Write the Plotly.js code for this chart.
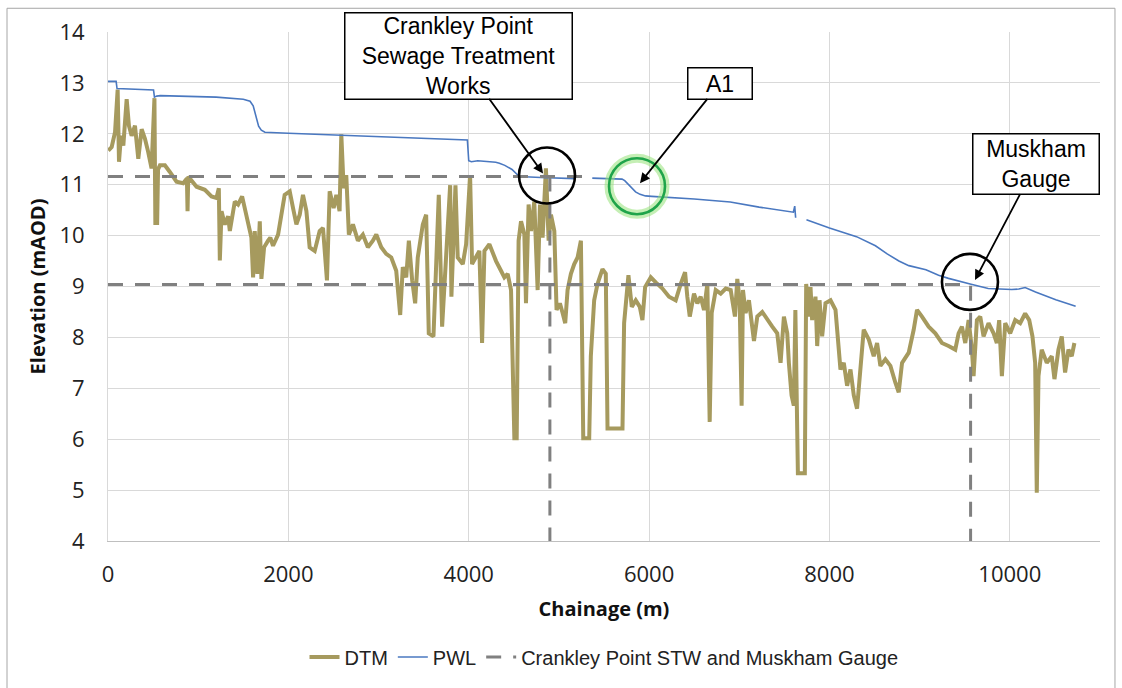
<!DOCTYPE html>
<html>
<head>
<meta charset="utf-8">
<script src="https://cdn.plot.ly/plotly-3.0.1.min.js"></script>
<style>html,body{margin:0;padding:0;background:#fff;}#chart{width:1122px;height:688px;}</style>
</head>
<body>
<div id="chart"></div>
<script>
// ---- Data ----
const dtmX = [3,41,78,107,122,144,170,207,232,262,299,336,373,410,446,483,515,525,545,555,576,631,686,760,834,875,882,890,982,1074,1148,1203,1229,1240,1259,1295,1332,1351,1406,1443,1487,1517,1553,1590,1609,1627,1657,1683,1701,1731,1775,1800,
1830,1886,1959,2015,2052,2089,2126,2162,2200,2236,2292,2347,2384,2428,2458,2502,2532,2568,2587,2613,2642,2671,2716,2771,2826,2882,2937,2975,3030,3085,3141,3196,3240,3269,3307,3336,3373,3406,3435,3491,3528,3557,3609,3639,3668,
3705,3750,3794,3808,3853,3878,3934,3971,4015,4037,4082,4118,4148,4174,4229,4266,4303,4358,4395,4432,4469,4506,4532,4553,4580,4617,4635,4664,4691,4727,4764,4790,4819,4856,4886,4912,4949,4974,5011,5041,5070,5096,5133,5170,5207,5244,5270,5336,5354,5391,5428,5483,5520,5539,5705,
5723,5742,5771,5808,5852,5897,5926,5956,6019,6074,6148,6221,6295,6351,6399,6424,6451,6498,6535,6572,6609,6646,6672,6694,6739,6794,6850,6905,6952,6978,7004,7026,7041,7070,7107,7163,7200,7255,7310,7366,7421,7458,7495,7532,7550,7580,7605,7622,7650,7727,7742,7772,7790,7808,7845,7864,7890,7919,7956,8012,8067,8096,8122,8159,8196,8233,8270,8306,8344,8380,8436,8491,8528,8565,8620,8676,8731,8768,8805,8879,8934,8971,
9026,9100,9174,9247,9321,9395,9432,9469,9506,9543,9580,9598,9635,9672,9709,9764,9820,9856,9882,9912,9949,10004,10060,10115,10170,10215,10251,10281,10299,10318,10354,10410,10465,10495,10539,10576,10613,10650,10687,10716];
const dtmY = [11.67,11.74,12.03,12.87,11.45,11.96,11.77,12.68,12.16,11.96,12.16,11.51,12.09,11.9,11.64,11.32,12.7,10.25,10.25,11.3,11.38,11.38,11.25,11.06,11.03,11.12,10.48,11.16,10.96,10.9,10.77,10.74,10.93,9.51,10.48,10.22,10.38,10.09,10.67,10.61,10.77,10.54,10.22,9.96,9.18,10.09,9.25,10.28,9.15,9.77,9.9,9.96,
9.8,10.02,10.8,10.87,10.54,10.22,10.41,10.8,10.48,9.77,9.7,10.09,10.15,9.12,10.87,10.54,10.8,10.48,11.99,10.93,11.19,10.02,10.22,9.9,10.02,9.77,9.9,10.02,9.77,9.64,9.57,9.31,8.44,9.38,9.18,9.9,9.12,8.67,9.57,10.22,10.41,8.08,8.02,9.64,10.8,
8.21,9.57,10.99,8.8,10.99,9.57,9.44,9.83,11.19,9.44,9.57,9.7,7.89,9.7,9.83,9.64,9.5,9.31,9.18,9.25,8.93,6.02,6.02,9.9,10.28,10.02,8.67,10.61,10.09,10.67,8.93,10.61,9.96,11.32,9.9,10.41,10.09,8.54,8.67,8.48,8.28,8.93,9.25,9.44,9.57,9.9,6.02,6.02,7.63,8.73,9.05,9.34,9.25,6.21,6.21,
8.28,8.6,9.22,8.6,8.73,8.6,8.34,8.99,9.18,9.08,8.96,8.8,8.73,9.05,9.28,8.8,8.41,8.86,8.67,8.8,8.54,9.05,6.34,8.48,8.93,8.86,8.96,8.93,8.41,9.15,8.73,6.66,8.93,8.48,8.73,7.93,8.41,8.5,8.34,8.21,8.08,7.5,8.41,8.08,7.5,6.86,6.66,8.54,5.33,5.33,9.05,8.41,8.99,8.34,8.8,7.83,8.73,8.02,8.67,8.73,8.54,8.02,7.37,7.5,7.05,7.37,6.86,6.6,7.5,8.15,7.96,7.63,7.89,7.44,7.57,7.44,7.11,6.92,7.5,7.7,8.15,8.54,
8.41,8.21,8.08,7.89,7.83,7.76,8.08,8.21,7.89,8.34,7.76,7.24,8.34,8.41,8.02,8.28,8.08,7.89,8.34,7.24,8.28,8.08,8.34,8.28,8.47,8.34,8.02,7.5,4.95,7.24,7.76,7.5,7.63,7.18,7.76,8.02,7.31,7.76,7.63,7.89];

const pwlX = [0,90,100,300,505,515,540,580,800,1200,1500,1575,1610,1640,1670,1700,1740,2000,2500,3000,3500,3985,4000,4030,4100,4200,4300,4340,4400,4480,4530,4560,4800,5000,5170,5180,5370,5600,5700,5730,5770,5810,5850,5900,5960,6030,6500,6900,7220,7600,7615,7625,7640,7745,8000,8300,8510,8640,8770,8880,9070,9210,9320,9560,9760,10020,10100,10170,10285,10510,10730];
const pwlY = [13.03,13.03,12.89,12.88,12.86,12.72,12.74,12.75,12.74,12.72,12.68,12.64,12.55,12.35,12.15,12.07,12.03,12.01,11.98,11.95,11.92,11.88,11.47,11.45,11.47,11.46,11.44,11.42,11.38,11.3,11.22,11.16,11.14,11.13,11.12,null,11.13,11.12,11.11,11.08,11.0,10.92,10.86,10.81,10.78,10.77,10.72,10.66,10.56,10.46,10.58,10.35,null,10.31,10.15,9.98,9.8,9.64,9.5,9.41,9.33,9.22,9.16,9.05,8.96,8.94,8.95,8.98,8.89,8.74,8.61];

const refX = [0,5260,null,4900,4900,null,0,9565,9565];
const refY = [11.16,11.16,null,11.16,4,null,9.04,9.04,4];

const seriesNames = ["DTM","PWL","Crankley Point STW and Muskham Gauge"];
const xTickVals = [0,2000,4000,6000,8000,10000];
const yTickVals = [4,5,6,7,8,9,10,11,12,13,14];

// Callouts: [text, tip x, tip y, text offset x(px), offset y(px), box w, box h]
const callouts = [
  ["Crankley Point<br>Sewage Treatment<br>Works", 4824, 11.22, -85, -118, 226, 85],
  ["A1", 5899, 11.03, 80, -100, 63, 30],
  ["Muskham<br>Gauge", 9614, 9.13, 61, -116, 125, 59]
];
// Circles: [centre x, centre y, radius px, colour]
const circles = [
  [4868, 11.18, 28, "#000000"],
  [5866, 10.97, 28, "#1fa44a"],
  [9558, 9.09, 28, "#000000"]
];

const traces = [
  {x: dtmX, y: dtmY, name: seriesNames[0], mode: "lines",
   line: {color: "#a69a5e", width: 4}},
  {x: pwlX, y: pwlY, name: seriesNames[1], mode: "lines",
   line: {color: "#4a78c0", width: 1.6}},
  {x: refX, y: refY, name: seriesNames[2], mode: "lines",
   line: {color: "#808080", width: 3, dash: "15px,12px"}}
];

const shapes = [
  {type: "rect", xref: "paper", yref: "paper", x0: -0.1018, x1: 1.0151, y0: -0.30, y1: 1.0466,
   line: {color: "#a6a6a6", width: 1}, layer: "below"}
];
circles.forEach(c => {
  if (c[3] !== "#000000") {
    shapes.push({type: "circle", xref: "x", yref: "y", xsizemode: "pixel", ysizemode: "pixel",
      xanchor: c[0], yanchor: c[1], x0: -c[2], x1: c[2], y0: -c[2], y1: c[2],
      line: {color: "rgba(150,225,120,0.55)", width: 9}});
  }
  shapes.push({type: "circle", xref: "x", yref: "y", xsizemode: "pixel", ysizemode: "pixel",
    xanchor: c[0], yanchor: c[1], x0: -c[2], x1: c[2], y0: -c[2], y1: c[2],
    line: {color: c[3], width: 2.6}});
});

const annotations = callouts.map(c => ({
  text: c[0], x: c[1], y: c[2], xref: "x", yref: "y",
  ax: c[3], ay: c[4], axref: "pixel", ayref: "pixel",
  showarrow: true, arrowhead: 2, arrowsize: 1.1, arrowwidth: 1.8, arrowcolor: "#000",
  bgcolor: "#ffffff", bordercolor: "#000000", borderwidth: 1.5, borderpad: 0,
  width: c[5], height: c[6], align: "center", valign: "middle",
  font: {family: "Liberation Sans, Arial, sans-serif", size: 23, color: "#000"}
}));

const layout = {
  width: 1122, height: 688,
  margin: {l: 108, r: 22, t: 32, b: 141},
  paper_bgcolor: "#ffffff", plot_bgcolor: "#ffffff",
  showlegend: true,
  legend: {orientation: "h", x: 0.5, xanchor: "center", y: -0.228, yanchor: "middle",
    font: {family: "Liberation Sans, Arial, sans-serif", size: 20, color: "#222"},
    traceorder: "normal"},
  xaxis: {range: [0, 11000], tickvals: xTickVals, ticktext: xTickVals.map(String),
    showgrid: true, gridcolor: "#d9d9d9", gridwidth: 1, zeroline: false,
    showline: true, linecolor: "#bfbfbf", linewidth: 1, ticks: "", ticklabelstandoff: 14,
    tickfont: {family: "Open Sans, sans-serif", size: 22, color: "#222"},
    title: {text: "<b>Chainage (m)</b>", standoff: 14,
      font: {family: "Open Sans, sans-serif", size: 20, color: "#111"}}},
  yaxis: {range: [4, 14], tickvals: yTickVals, ticktext: yTickVals.map(String),
    showgrid: true, gridcolor: "#d9d9d9", gridwidth: 1, zeroline: false,
    showline: true, linecolor: "#d9d9d9", linewidth: 1, ticks: "", ticklabelstandoff: 18,
    tickfont: {family: "Open Sans, sans-serif", size: 22, color: "#222"},
    title: {text: "<b>Elevation (mAOD)</b>", standoff: 8,
      font: {family: "Open Sans, sans-serif", size: 20, color: "#111"}}},
  shapes: shapes,
  annotations: annotations
};

Plotly.newPlot("chart", traces, layout, {displayModeBar: false, staticPlot: true});
</script>
</body>
</html>
